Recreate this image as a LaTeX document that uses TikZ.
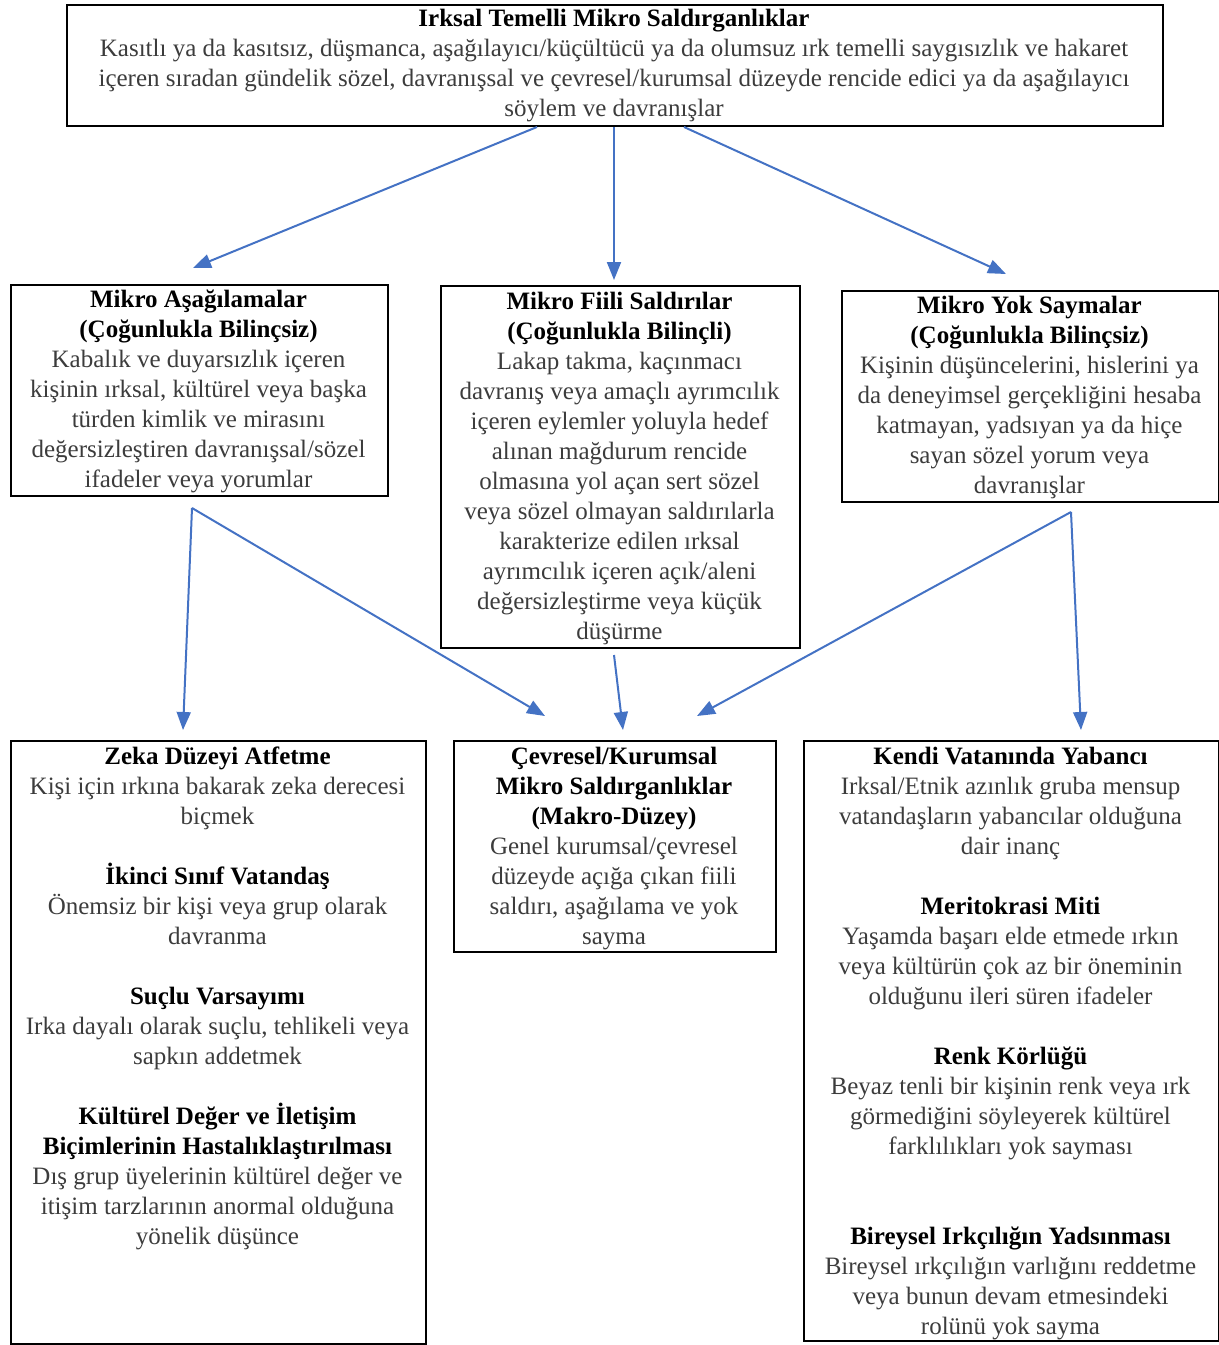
\documentclass[tikz,border=0pt]{standalone}
\usepackage{fontspec}
\setmainfont{Liberation Serif}
\usetikzlibrary{arrows.meta}
\definecolor{arrowblue}{RGB}{68,114,196}
\definecolor{bodygray}{RGB}{60,60,60}
\newcommand\ttlx[1]{\textbf{\color{black}#1}}
\begin{document}
\begin{tikzpicture}[x=1pt,y=-1pt,
  frame/.style={draw=black,line width=2pt,inner sep=0pt,anchor=north west},
  txt/.style={anchor=north,inner sep=0pt,align=center,font=\fontsize{25}{30}\selectfont,text=bodygray},
  conn/.style={draw=arrowblue,line width=2pt,-{Triangle[length=18pt,width=14pt]}}]
\useasboundingbox (0,0) rectangle (1219,1345);

% frames
\node[frame,minimum width=1096pt,minimum height=121pt] (top) at (66,4) {};
\node[frame,minimum width=377pt,minimum height=211pt] (bxL) at (10,284) {};
\node[frame,minimum width=359pt,minimum height=362pt] (bxM) at (440,285) {};
\node[frame,minimum width=377pt,minimum height=211pt] (bxR) at (841,290) {};
\node[frame,minimum width=415pt,minimum height=603pt] (btL) at (10,740) {};
\node[frame,minimum width=322pt,minimum height=211pt] (btM) at (453,740) {};
\node[frame,minimum width=415pt,minimum height=600pt] (btR) at (803,740) {};

% texts
\node[txt] (topt) at (614,5) {\strut\ttlx{Irksal Temelli Mikro Saldırganlıklar}\\
Kasıtlı ya da kasıtsız, düşmanca, aşağılayıcı/küçültücü ya da olumsuz ırk temelli saygısızlık ve hakaret\\
içeren sıradan gündelik sözel, davranışsal ve çevresel/kurumsal düzeyde rencide edici ya da aşağılayıcı\\
söylem ve davranışlar};

\node[txt] (bxLt) at (198.5,286) {\strut\ttlx{Mikro Aşağılamalar}\\
\ttlx{(Çoğunlukla Bilinçsiz)}\\
Kabalık ve duyarsızlık içeren\\
kişinin ırksal, kültürel veya başka\\
türden kimlik ve mirasını\\
değersizleştiren davranışsal/sözel\\
ifadeler veya yorumlar};

\node[txt] (bxMt) at (619.5,288) {\strut\ttlx{Mikro Fiili Saldırılar}\\
\ttlx{(Çoğunlukla Bilinçli)}\\
Lakap takma, kaçınmacı\\
davranış veya amaçlı ayrımcılık\\
içeren eylemler yoluyla hedef\\
alınan mağdurum rencide\\
olmasına yol açan sert sözel\\
veya sözel olmayan saldırılarla\\
karakterize edilen ırksal\\
ayrımcılık içeren açık/aleni\\
değersizleştirme veya küçük\\
düşürme};

\node[txt] (bxRt) at (1029.5,292) {\strut\ttlx{Mikro Yok Saymalar}\\
\ttlx{(Çoğunlukla Bilinçsiz)}\\
Kişinin düşüncelerini, hislerini ya\\
da deneyimsel gerçekliğini hesaba\\
katmayan, yadsıyan ya da hiçe\\
sayan sözel yorum veya\\
davranışlar};

\node[txt] (btLt) at (217.5,743) {\strut\ttlx{Zeka Düzeyi Atfetme}\\
Kişi için ırkına bakarak zeka derecesi\\
biçmek\\[30pt]
\ttlx{İkinci Sınıf Vatandaş}\\
Önemsiz bir kişi veya grup olarak\\
davranma\\[30pt]
\ttlx{Suçlu Varsayımı}\\
Irka dayalı olarak suçlu, tehlikeli veya\\
sapkın addetmek\\[30pt]
\ttlx{Kültürel Değer ve İletişim}\\
\ttlx{Biçimlerinin Hastalıklaştırılması}\\
Dış grup üyelerinin kültürel değer ve\\
itişim tarzlarının anormal olduğuna\\
yönelik düşünce};

\node[txt] (btMt) at (614,743) {\strut\ttlx{Çevresel/Kurumsal}\\
\ttlx{Mikro Saldırganlıklar}\\
\ttlx{(Makro-Düzey)}\\
Genel kurumsal/çevresel\\
düzeyde açığa çıkan fiili\\
saldırı, aşağılama ve yok\\
sayma};

\node[txt] (btRt) at (1010.5,743) {\strut\ttlx{Kendi Vatanında Yabancı}\\
Irksal/Etnik azınlık gruba mensup\\
vatandaşların yabancılar olduğuna\\
dair inanç\\[30pt]
\ttlx{Meritokrasi Miti}\\
Yaşamda başarı elde etmede ırkın\\
veya kültürün çok az bir öneminin\\
olduğunu ileri süren ifadeler\\[30pt]
\ttlx{Renk Körlüğü}\\
Beyaz tenli bir kişinin renk veya ırk\\
görmediğini söyleyerek kültürel\\
farklılıkları yok sayması\\[60pt]
\ttlx{Bireysel Irkçılığın Yadsınması}\\
Bireysel ırkçılığın varlığını reddetme\\
veya bunun devam etmesindeki\\
rolünü yok sayma};

% connector end points
\coordinate (t1) at (537,127);
\coordinate (t2) at (614,127);
\coordinate (t3) at (684,127);
\coordinate (e1) at (193,268);
\coordinate (e2) at (614,280);
\coordinate (e3) at (1006,274);
\coordinate (lS) at (192,508);
\coordinate (lE1) at (183,730);
\coordinate (lE2) at (545,716);
\coordinate (mS) at (614,655);
\coordinate (mE) at (623,730);
\coordinate (rS) at (1071,512);
\coordinate (rE1) at (697,716);
\coordinate (rE2) at (1081,730);

\draw[conn] (t1) -- (e1);
\draw[conn] (t2) -- (e2);
\draw[conn] (t3) -- (e3);
\draw[conn] (lS) -- (lE1);
\draw[conn] (lS) -- (lE2);
\draw[conn] (mS) -- (mE);
\draw[conn] (rS) -- (rE1);
\draw[conn] (rS) -- (rE2);
\end{tikzpicture}
\end{document}
